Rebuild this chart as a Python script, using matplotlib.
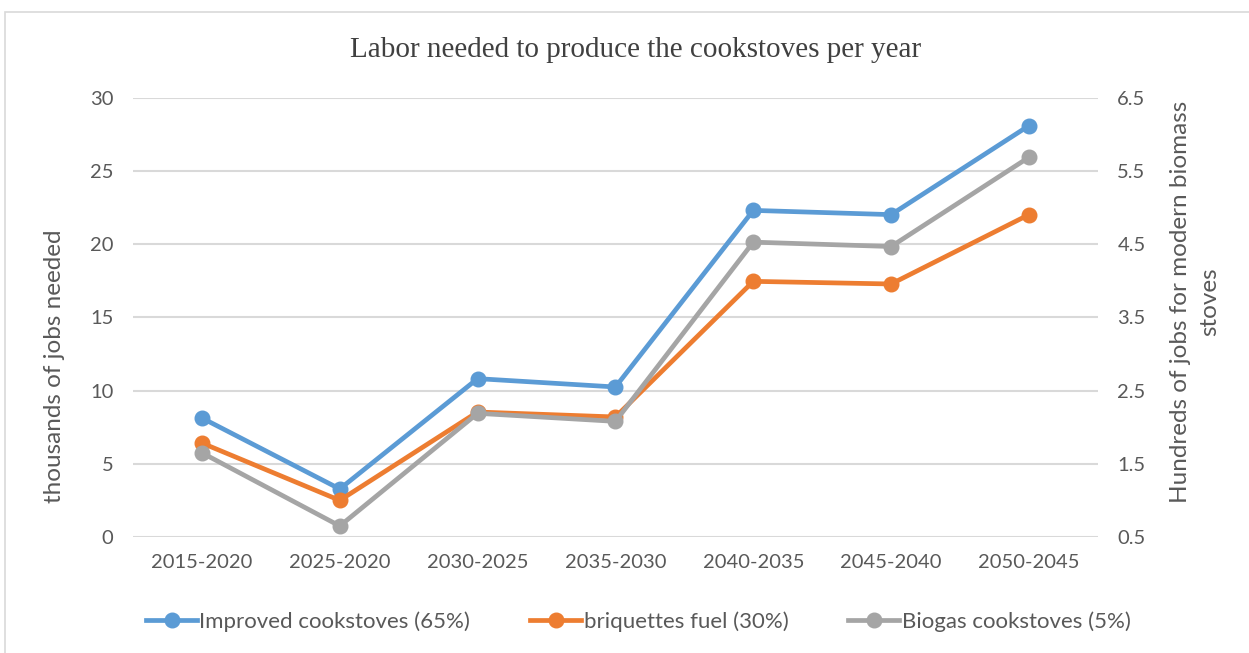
import matplotlib
matplotlib.use("Agg")
import matplotlib.pyplot as plt
from matplotlib.patches import Rectangle

categories = ["2015-2020", "2025-2020", "2030-2025", "2035-2030", "2040-2035", "2045-2040", "2050-2045"]
improved = [8.13, 3.28, 10.82, 10.25, 22.32, 22.03, 28.11]
briquettes = [6.42, 2.50, 8.54, 8.20, 17.47, 17.29, 22.03]
biogas = [1.65, 0.65, 2.19, 2.08, 4.53, 4.47, 5.69]  # right axis (hundreds)

left_ticks = [0, 5, 10, 15, 20, 25, 30]
right_ticks = [0.5, 1.5, 2.5, 3.5, 4.5, 5.5, 6.5]

plt.rcParams['font.family'] = ['Lato', 'DejaVu Sans']

fig = plt.figure(figsize=(12.49, 6.53), dpi=100)
fig.patches.append(Rectangle((0.004, -0.01), 1.2, 0.992, transform=fig.transFigure,
                             fill=False, edgecolor='#d9d9d9', linewidth=1.2))

ax = fig.add_axes([0.1065, 0.1777, 0.7725, 0.6722])
ax2 = ax.twinx()

x = list(range(len(categories)))
blue, orange, gray = '#5b9bd5', '#ed7d31', '#a5a5a5'

ax.set_ylim(0, 30)
ax2.set_ylim(0.5, 6.5)
ax.set_xlim(-0.5, len(categories) - 0.5)
ax.set_yticks(left_ticks)
ax2.set_yticks(right_ticks)
ax2.set_yticklabels([str(t) for t in right_ticks])
ax.yaxis.grid(True, color='#d9d9d9', linewidth=1.5)
ax.set_axisbelow(True)

l1, = ax.plot(x, improved, color=blue, lw=3.4, marker='o', ms=10.5, label='Improved cookstoves (65%)', zorder=3)
l2, = ax.plot(x, briquettes, color=orange, lw=3.4, marker='o', ms=10.5, label='briquettes fuel (30%)', zorder=3)
l3, = ax2.plot(x, biogas, color=gray, lw=3.4, marker='o', ms=10.5, label='Biogas cookstoves (5%)', zorder=3)

ax.set_xticks(x)
ax.set_xticklabels(categories)
for a in (ax, ax2):
    for s in a.spines.values():
        s.set_visible(False)
    a.tick_params(length=0, labelsize=14.5, colors='#595959')
ax.tick_params(axis='x', pad=12)
ax2.tick_params(axis='y', pad=14)
ax.tick_params(axis='y', pad=14)

ax.set_ylabel('thousands of jobs needed', fontsize=17.5, color='#595959')
ax.yaxis.set_label_coords(-0.07, 0.39)
ax2.set_ylabel('Hundreds of jobs for modern biomass\nstoves', fontsize=17.5, color='#595959',
               rotation=90, linespacing=1.45)
ax2.yaxis.set_label_coords(1.075, 0.535)

fig.text(0.509, 0.923, 'Labor needed to produce the cookstoves per year', ha='center', va='center',
         fontsize=21, color='#404040', family=['Liberation Serif'])

leg = fig.legend(handles=[l1, l2, l3], loc='center', bbox_to_anchor=(0.511, 0.048), ncol=3,
                 frameon=False, fontsize=16, handlelength=2.3, handletextpad=0.1, columnspacing=2.7)
for t in leg.get_texts():
    t.set_color('#595959')

fig.savefig('out.png', dpi=100)
